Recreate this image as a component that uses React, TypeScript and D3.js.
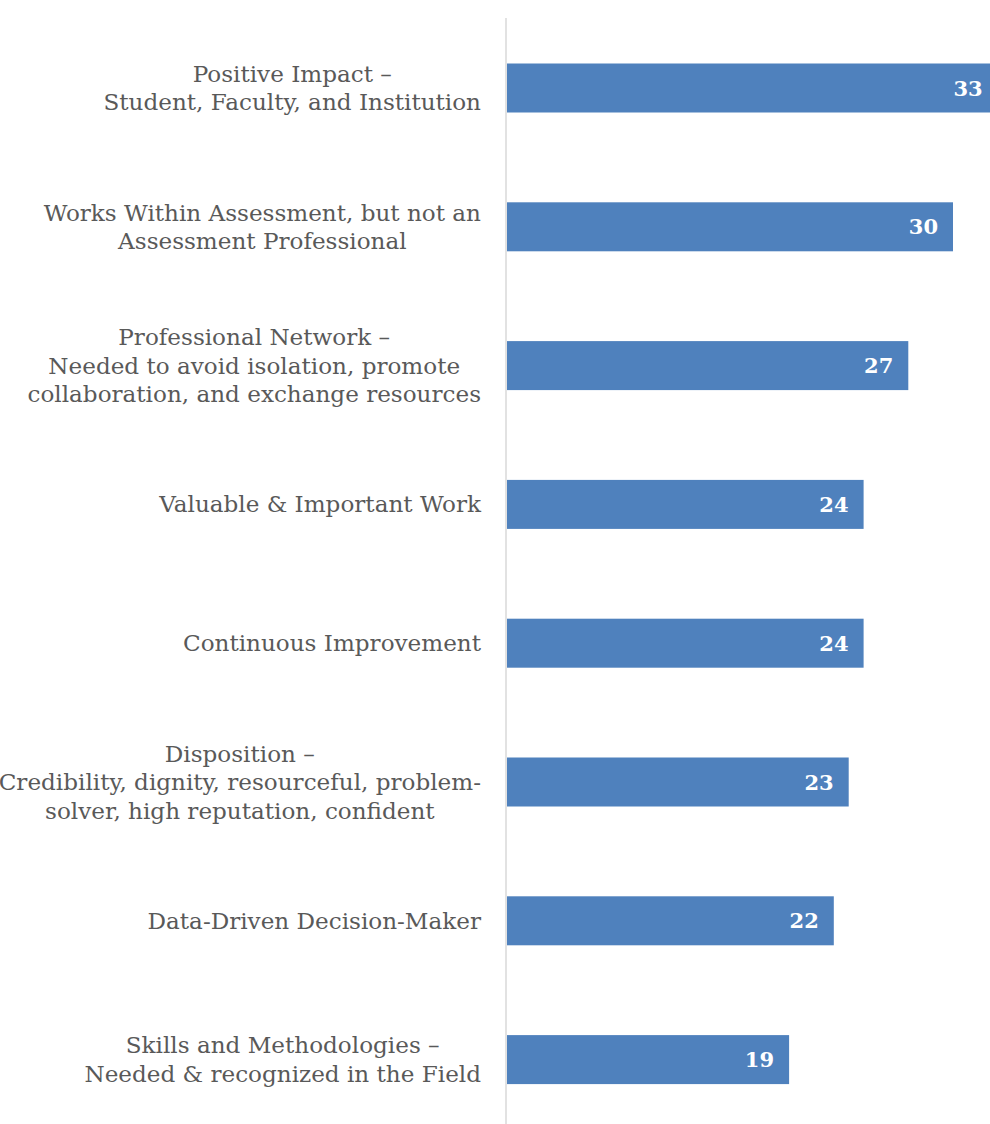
import React, { useEffect, useRef } from "react";
import * as d3 from "d3";

const categories: string[][] = [
  ["Positive Impact –", "Student, Faculty, and Institution"],
  ["Works Within Assessment, but not an", "Assessment Professional"],
  ["Professional Network –", "Needed to avoid isolation, promote", "collaboration, and exchange resources"],
  ["Valuable & Important Work"],
  ["Continuous Improvement"],
  ["Disposition –", "Credibility, dignity, resourceful, problem-", "solver, high reputation, confident"],
  ["Data-Driven Decision-Maker"],
  ["Skills and Methodologies –", "Needed & recognized in the Field"],
];
const values: number[] = [33, 30, 27, 24, 24, 23, 22, 19];

const W = 990;
const H = 1124;

export default function App() {
  const ref = useRef<SVGSVGElement>(null);
  useEffect(() => {
    const svg = d3.select(ref.current);
    svg.selectAll("*").remove();
    const ids = categories.map((_, i) => String(i));
    const y = d3.scaleBand<string>().domain(ids).range([18.6, 18.6 + 8 * 138.8]).paddingInner(0.647).paddingOuter(0.3235);
    const x = d3.scaleLinear().domain([0, 33]).range([506, 506 + 33 * 14.9]);

    svg.append("line")
      .attr("x1", x(0)).attr("x2", x(0))
      .attr("y1", 18).attr("y2", H)
      .attr("stroke", "#d9d9d9").attr("stroke-width", 1.5);

    const g = svg.append("g");
    g.selectAll("rect").data(values).join("rect")
      .attr("x", x(0) + 1)
      .attr("y", (_, i) => y(ids[i])!)
      .attr("width", (d) => x(d) - x(0) - 1)
      .attr("height", y.bandwidth())
      .attr("fill", "#4f81bd");

    g.selectAll("text.val").data(values).join("text")
      .attr("class", "val")
      .attr("x", (d) => x(d) - 15)
      .attr("y", (_, i) => y(ids[i])! + y.bandwidth() / 2)
      .attr("dy", "0.36em")
      .attr("text-anchor", "end")
      .attr("fill", "#ffffff")
      .attr("font-weight", "bold")
      .attr("font-family", "DejaVu Serif, serif")
      .attr("font-size", 21)
      .text((d) => String(d));

    const lh = 28.5;
    categories.forEach((lines, i) => {
      const cy = y(ids[i])! + y.bandwidth() / 2;
      const t = svg.append("text")
        .attr("font-family", "DejaVu Serif, serif")
        .attr("font-size", 23.1)
        .attr("fill", "#595959")
        .attr("text-anchor", "middle");
      const spans = lines.map((ln, j) =>
        t.append("tspan")
          .attr("y", cy + (j - (lines.length - 1) / 2) * lh)
          .attr("dy", "0.35em")
          .text(ln)
      );
      let maxW = 0;
      spans.forEach((s) => {
        const n = s.node() as SVGTextContentElement;
        maxW = Math.max(maxW, n.getComputedTextLength());
      });
      const cx = 481 - maxW / 2;
      spans.forEach((s) => s.attr("x", cx));
    });
  }, []);
  return (
    <svg
      ref={ref}
      width={W}
      height={H}
      style={{ position: "absolute", left: 0, top: 0, background: "#ffffff" }}
    />
  );
}
